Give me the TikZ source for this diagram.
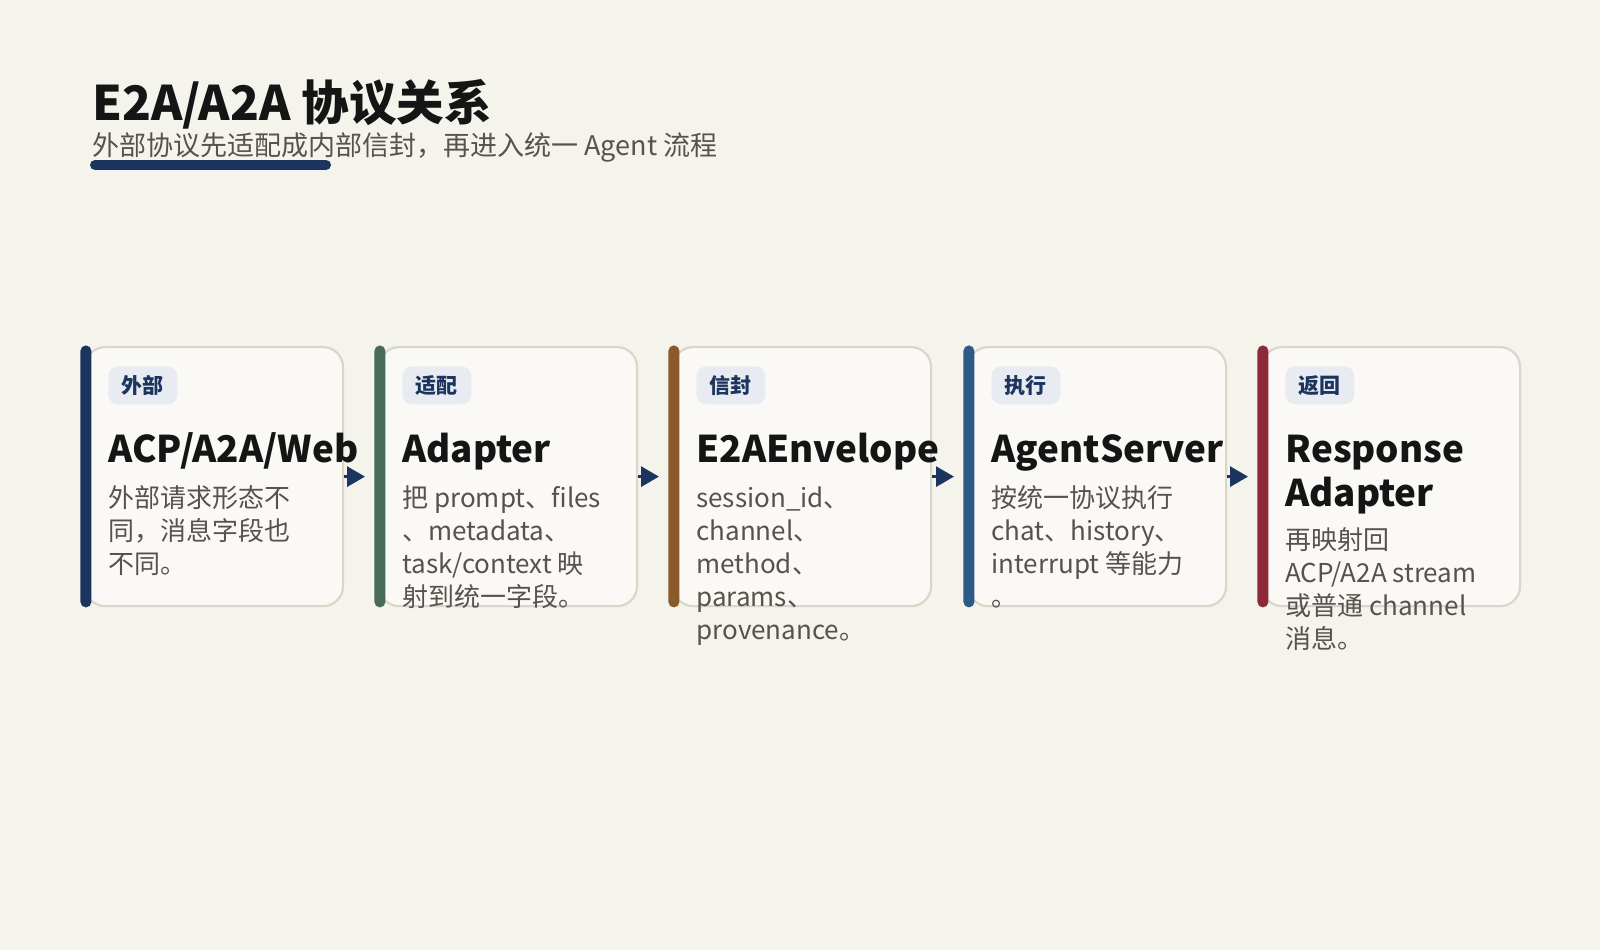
\documentclass[tikz,border=0pt]{standalone}
\usepackage{fontspec}
\setmainfont{Noto Sans CJK SC}
\usetikzlibrary{arrows.meta,positioning}

\definecolor{paper}{HTML}{F4F3EC}
\definecolor{cardfill}{HTML}{FAF9F5}
\definecolor{cardline}{HTML}{DAD6CA}
\definecolor{badgefill}{HTML}{E8ECF2}
\definecolor{navy}{HTML}{1C355E}
\definecolor{moss}{HTML}{486B55}
\definecolor{rust}{HTML}{8A5A2C}
\definecolor{steel}{HTML}{2E5A8A}
\definecolor{wine}{HTML}{8C2A38}
\definecolor{ink}{HTML}{151515}
\definecolor{muted}{HTML}{55534E}

\tikzset{
  card/.style={draw=cardline, line width=1.1pt, fill=cardfill, rounded corners=10pt,
    minimum width=129pt, minimum height=129.5pt, inner sep=0pt, anchor=north west},
  stripe/.style={fill=#1, rounded corners=2.75pt, minimum width=5.5pt,
    minimum height=131pt, inner sep=0pt, anchor=north west},
  badge/.style={fill=badgefill, text=navy, rounded corners=5pt, minimum width=34.5pt,
    minimum height=19pt, inner sep=0pt, anchor=north west,
    font=\fontsize{10.5}{12}\selectfont\bfseries},
  cardtitle/.style={text=ink, inner sep=0pt, anchor=base west, align=left,
    font=\fontsize{18.4}{22}\selectfont\bfseries},
  cardtext/.style={text=muted, inner sep=0pt, anchor=base west, align=left,
    font=\fontsize{13}{16.5}\selectfont},
  flow/.style={draw=navy, line width=1.5pt, -{Triangle[length=9pt,width=10pt]}, shorten >=4.5pt}
}

\begin{document}
\begin{tikzpicture}[x=0.5pt, y=-0.5pt]

  % page
  \fill[paper] (0,0) rectangle (1600,950);
  \useasboundingbox (0,0) rectangle (1600,950);

  % heading
  \node[anchor=base west, inner sep=0pt, text=ink, font=\fontsize{23.8}{29}\selectfont\bfseries]
    (title) at (92,120) {E2A/A2A 协议关系};
  \node[anchor=base west, inner sep=0pt, text=muted, font=\fontsize{13.5}{16}\selectfont]
    (subtitle) at (92,155) {外部协议先适配成内部信封，再进入统一 Agent 流程};
  \draw[navy, line width=5pt, line cap=round] (95,165) -- (326,165);

  % cards
  \foreach \x/\n/\c/\tag in {80/ext/navy/外部, 374/adapt/moss/适配, 668/env/rust/信封,
                             963/srv/steel/执行, 1257/resp/wine/返回} {
    \node[card] (\n) at (\x+4,346) {};
    \node[stripe=\c] (bar-\n) at (\x,345) {};
    \node[badge] (tag-\n) at (\x+28,366) {\tag};
  }

  % titles (base = last line)
  \node[cardtitle] (ttl-ext) at (108,462) {ACP/A2A/Web};
  \node[cardtitle] (ttl-adapt) at (402,462) {Adapter};
  \node[cardtitle] (ttl-env) at (696,462) {E2AEnvelope};
  \node[cardtitle] (ttl-srv) at (991,462) {AgentServer};
  \node[cardtitle] (ttl-resp) at (1285,506) {Response\\Adapter};

  % descriptions (base = last line, 33 per line)
  \node[cardtext] (txt-ext) at (108,573) {外部请求形态不\\同，消息字段也\\不同。};
  \node[cardtext] (txt-adapt) at (402,606) {把 prompt、files\\、metadata、\\task/context 映\\射到统一字段。};
  \node[cardtext] (txt-env) at (696,639) {session\_id、\\channel、\\method、\\params、\\provenance。};
  \node[cardtext] (txt-srv) at (991,606) {按统一协议执行\\chat、history、\\interrupt 等能力\\。};
  \node[cardtext] (txt-resp) at (1285,648) {再映射回\\ACP/A2A stream\\或普通 channel\\消息。};

  % arrows
  \foreach \a/\b in {ext/adapt, adapt/env, env/srv, srv/resp}
    \draw[flow] (\a.east) -- (\a.east -| bar-\b.west);

\end{tikzpicture}
\end{document}
